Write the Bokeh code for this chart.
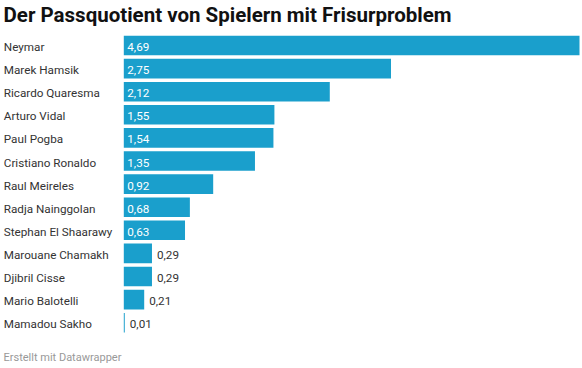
from bokeh.plotting import figure
from bokeh.models import Range1d, ColumnDataSource, Label
from bokeh.core.properties import value
from bokeh.embed import file_html
from bokeh.resources import INLINE

players = ["Neymar", "Marek Hamsik", "Ricardo Quaresma", "Arturo Vidal", "Paul Pogba",
           "Cristiano Ronaldo", "Raul Meireles", "Radja Nainggolan", "Stephan El Shaarawy",
           "Marouane Chamakh", "Djibril Cisse", "Mario Balotelli", "Mamadou Sakho"]
values = [4.69, 2.75, 2.12, 1.55, 1.54, 1.35, 0.92, 0.68, 0.63, 0.29, 0.29, 0.21, 0.01]
title = "Der Passquotient von Spielern mit Frisurproblem"
footer = "Erstellt mit Datawrapper"

W, H = 582, 368
FONT = "Roboto"
BAR = "#1a9fcc"

# layout (screen px, figure coords)
x0_px, xmax_px = 123.3, 579.0
scale = (xmax_px - x0_px) / max(values)
row0_px, row_step = 45.0, 23.1

x_start = -x0_px / scale
x_end = (W - x0_px) / scale
y_top = -row0_px / row_step
y_bot = (H - row0_px) / row_step

idx = list(range(len(players)))
labels = [f"{v:.2f}".replace(".", ",") for v in values]
inside = [v > 0.5 for v in values]

src = ColumnDataSource(dict(y=idx, v=values, name=players, lab=labels))
src_in = ColumnDataSource(dict(y=[i for i in idx if inside[i]],
                               v=[values[i] for i in idx if inside[i]],
                               lab=[labels[i] for i in idx if inside[i]]))
src_out = ColumnDataSource(dict(y=[i for i in idx if not inside[i]],
                                v=[values[i] for i in idx if not inside[i]],
                                lab=[labels[i] for i in idx if not inside[i]]))

p = figure(width=W, height=H, output_backend="svg", toolbar_location=None,
           x_range=Range1d(x_start, x_end), y_range=Range1d(y_bot, y_top),
           min_border=0, min_border_left=0, min_border_right=0,
           min_border_top=0, min_border_bottom=0)
p.axis.visible = False
p.grid.visible = False
p.outline_line_color = None
p.background_fill_color = "white"
p.border_fill_color = "white"

p.hbar(y="y", left=0, right="v", height=0.85, source=src, fill_color=BAR, line_color=None)

p.text(x=0, y="y", text="name", source=src, x_offset=-120, y_offset=1.5,
       text_baseline="middle", text_font=value(FONT), text_font_size="11.7px",
       text_color="#333333")
p.text(x=0, y="y", text="lab", source=src_in, x_offset=3.5, y_offset=1.5,
       text_baseline="middle", text_font=value(FONT), text_font_size="11.7px",
       text_color="white")
p.text(x="v", y="y", text="lab", source=src_out, x_offset=5, y_offset=1.5,
       text_baseline="middle", text_font=value(FONT), text_font_size="11.7px",
       text_color="#333333")

p.add_layout(Label(x=3, y=H - 14, x_units="screen", y_units="screen", text=title,
                   text_font=FONT, text_font_size="20.5px", text_font_style="bold",
                   text_color="#111111", text_baseline="middle"))
p.add_layout(Label(x=3, y=H - 357, x_units="screen", y_units="screen", text=footer,
                   text_font=FONT, text_font_size="11px", text_color="#999999",
                   text_baseline="middle"))

open("out.html", "w").write(file_html(p, INLINE))
